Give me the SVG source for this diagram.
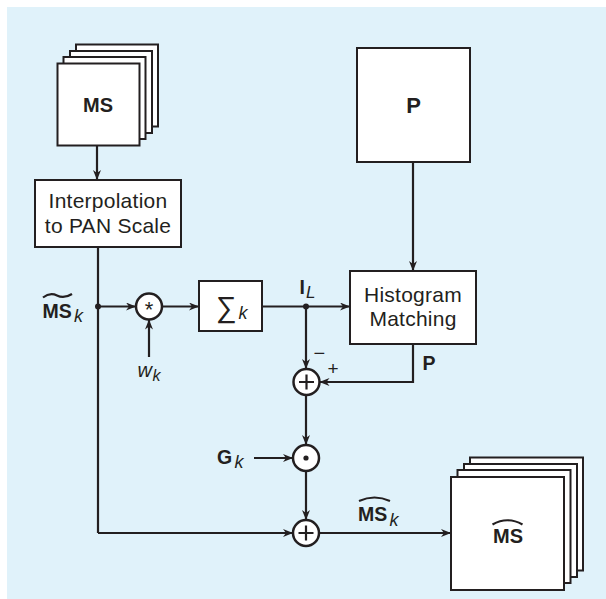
<svg xmlns="http://www.w3.org/2000/svg" width="606" height="599" viewBox="0 0 606 599">
<style>
.bg{fill:#e0f2fa}
.box{fill:#ffffff;stroke:#231f20;stroke-width:2}
.ln{fill:none;stroke:#231f20;stroke-width:2.2}
.arr{fill:none;stroke:#231f20;stroke-width:2.2;marker-end:url(#ah)}
.op{fill:#ffffff;stroke:#231f20;stroke-width:2.5}
.t{font-family:"Liberation Sans",Arial,Helvetica,sans-serif;fill:#231f20}
.lbl{font-size:21px;letter-spacing:0.25px;text-anchor:middle}
.b{font-weight:bold}
.i{font-style:italic}
</style>
<defs>
<marker id="ah" viewBox="0 0 10 8" refX="10" refY="4" markerWidth="10" markerHeight="8" markerUnits="userSpaceOnUse" orient="auto">
<path d="M0,0 L10,4 L0,8 L3,4 z" fill="#231f20"/>
</marker>
</defs>
<rect class="bg" x="7" y="7" width="599" height="592"/>

<g id="connectors">
<path class="arr" d="M97,146 V180"/>
<path class="ln" d="M98,247 V533"/>
<path class="arr" d="M98,306.5 H136"/>
<path class="arr" d="M149,357 V319.5"/>
<path class="arr" d="M162,306.5 H199"/>
<path class="ln" d="M262,306.5 H306"/>
<path class="arr" d="M306,306.5 H350"/>
<path class="arr" d="M306,306.5 V369"/>
<path class="arr" d="M413,162 V271"/>
<path class="arr" d="M413,344 V382 H319.5"/>
<path class="arr" d="M306,395 V445"/>
<path class="arr" d="M254,458 H293"/>
<path class="arr" d="M306,471 V520"/>
<path class="arr" d="M98,533 H293"/>
<path class="arr" d="M319.5,533 H451"/>
<circle cx="98" cy="306.5" r="3" fill="#231f20"/>
<circle cx="306" cy="306.5" r="3" fill="#231f20"/>
</g>

<g id="ms-stack">
<rect class="box" x="76" y="44.5" width="82" height="82"/>
<rect class="box" x="70" y="51" width="82" height="82"/>
<rect class="box" x="63.5" y="57" width="82" height="82"/>
<rect class="box" x="57.5" y="63.5" width="82" height="82"/>
<text class="t b" x="98" y="112" font-size="20" text-anchor="middle">MS</text>
</g>

<g id="interp">
<rect class="box" x="35" y="180" width="146" height="67"/>
<text class="t lbl" x="108" y="208">Interpolation</text>
<text class="t lbl" x="108" y="233">to PAN Scale</text>
</g>

<g id="p-image">
<rect class="box" x="357" y="48" width="113" height="114"/>
<text class="t b" x="413.5" y="112.5" font-size="22" text-anchor="middle">P</text>
</g>

<g id="conv">
<circle class="op" cx="149" cy="306.5" r="13"/>
<text class="t" x="149" y="317" font-size="22" text-anchor="middle">*</text>
</g>

<g id="sum">
<rect class="box" x="199" y="281" width="63" height="50"/>
<text class="t" x="216" y="317" font-size="29">∑</text>
<text class="t i" x="238.5" y="319" font-size="18">k</text>
</g>

<g id="histogram">
<rect class="box" x="350" y="271" width="126" height="73"/>
<text class="t lbl" x="413" y="301.5">Histogram</text>
<text class="t lbl" x="413" y="325.5">Matching</text>
</g>

<g id="diff">
<circle class="op" cx="306.5" cy="382" r="13"/>
<path class="ln" d="M306.5,374.5 V389.5 M299,382 H314" stroke-width="1.8"/>
</g>

<g id="mult">
<circle class="op" cx="306" cy="458" r="13"/>
<circle cx="306" cy="458" r="2.6" fill="#231f20"/>
</g>

<g id="add">
<circle class="op" cx="306" cy="533" r="13"/>
<path class="ln" d="M306,525.5 V540.5 M298.5,533 H313.5" stroke-width="1.8"/>
</g>

<g id="out-stack">
<rect class="box" x="470" y="457.5" width="113" height="113"/>
<rect class="box" x="464" y="464" width="113" height="113"/>
<rect class="box" x="457.5" y="470" width="113" height="113"/>
<rect class="box" x="451" y="477" width="113" height="113"/>
<path class="ln" d="M492.5,524.5 Q507.5,516 522.5,524.5" stroke-width="1.3"/>
<text class="t b" x="508" y="542.5" font-size="20" text-anchor="middle">MS</text>
</g>

<g id="labels">
<path class="ln" d="M43,297.5 Q50,292 57,295.5 T72,294" stroke-width="1.3"/>
<text class="t b" x="42.5" y="317.5" font-size="19.5">MS</text>
<text class="t i" x="74" y="322" font-size="18">k</text>

<text class="t i" x="137.5" y="377" font-size="20">w</text>
<text class="t i" x="152.5" y="381" font-size="16">k</text>

<text class="t b" x="299.5" y="293.5" font-size="19.5">I</text>
<text class="t i" x="306" y="297.5" font-size="17">L</text>

<text class="t" x="313.5" y="359.5" font-size="20">−</text>
<text class="t" x="327.5" y="375" font-size="19">+</text>
<text class="t b" x="422.5" y="369.5" font-size="19.5">P</text>

<text class="t b" x="217" y="463.5" font-size="19.5">G</text>
<text class="t i" x="234.5" y="468" font-size="18">k</text>

<path class="ln" d="M359,501 Q374.5,494 390,501" stroke-width="1.3"/>
<text class="t b" x="358" y="521" font-size="19.5">MS</text>
<text class="t i" x="389.5" y="526" font-size="18">k</text>
</g>
</svg>
